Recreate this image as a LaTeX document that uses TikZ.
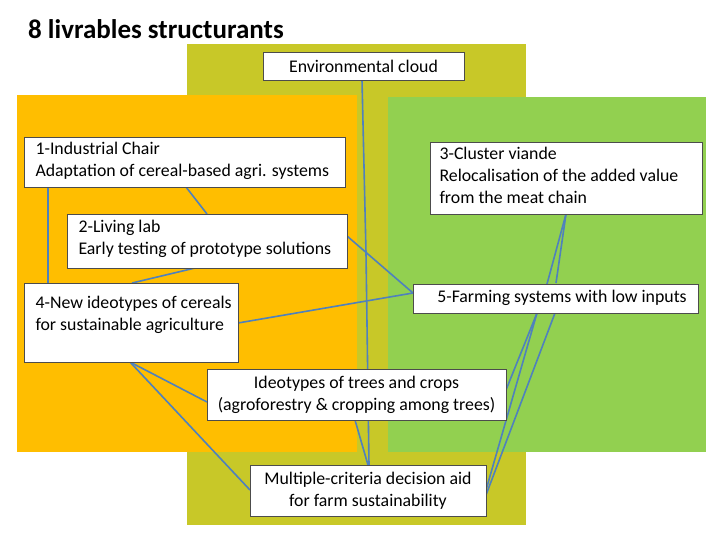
\documentclass[tikz,border=0pt]{standalone}
\usepackage{fontspec}
\setmainfont{Carlito}
\begin{document}
\begin{tikzpicture}[x=1pt,y=-1pt,
  box/.style={draw=black!70,fill=white,line width=0.6pt,inner sep=0pt},
  lab/.style={font=\fontsize{17.8}{22}\selectfont,align=left,anchor=north west},
  conn/.style={draw={rgb,255:red,79;green,129;blue,189},line width=1.6pt}]
\definecolor{olive}{RGB}{200,200,40}
\definecolor{orng}{RGB}{255,190,0}
\definecolor{grn}{RGB}{146,208,80}
\useasboundingbox (0,0) rectangle (720,540);
\fill[white] (0,0) rectangle (720,540);
\fill[olive] (187,44) rectangle (526,525);
\fill[orng] (17,95) rectangle (357,452);
\fill[grn] (388,97) rectangle (706,452);
\node[font=\fontsize{27}{30}\selectfont\bfseries,anchor=west,inner sep=0pt] (title) at (28,29) {8 livrables structurants};
% connectors (behind boxes)
\coordinate (envb) at (362,80);
\coordinate (a1) at (48,187); \coordinate (a4) at (48,283);
\draw[conn] (envb) -- (366,253) -- (369,465);
\draw[conn] (a1) -- (a4);
\draw[conn] (186,187) -- (207,214);
\draw[conn] (195,268) -- (132,283);
\draw[conn] (347,236) -- (413,293);
\draw[conn] (238,323) -- (413,293);
\draw[conn] (130,362) -- (207,402);
\draw[conn] (130,362) -- (250,490);
\draw[conn] (355,420) -- (368,465);
\draw[conn] (566,214) -- (547,284);
\draw[conn] (566,214) -- (556,283);
\draw[conn] (537,313) -- (486,490);
\draw[conn] (555,313) -- (486,495);
\draw[conn] (506,390) -- (537,313);
% boxes
\draw[box] (263,52) rectangle (464,80);
\node[font=\fontsize{17.8}{20}\selectfont] (env) at (363.5,66) {Environmental cloud};
\draw[box] (24,137) rectangle (345,187);
\node[lab] (c1) at (32,139) {1-Industrial Chair\\Adaptation of cereal-based agri. systems};
\draw[box] (430,142) rectangle (702,214);
\node[lab] (c3) at (436,144) {3-Cluster viande\\Relocalisation of the added value\\from the meat chain};
\draw[box] (67,214) rectangle (347,268);
\node[lab] (c2) at (75,217) {2-Living lab\\Early testing of prototype solutions};
\draw[box] (24,283) rectangle (238,362);
\node[lab] (c4) at (32,293) {4-New ideotypes of cereals\\for sustainable agriculture};
\draw[box] (413,284) rectangle (698,313);
\node[font=\fontsize{17.8}{20}\selectfont] (c5) at (562,298) {5-Farming systems with low inputs};
\draw[box] (207,369) rectangle (506,420);
\node[font=\fontsize{17.8}{22}\selectfont,align=center] (tr) at (356.5,394.5) {Ideotypes of trees and crops\\(agroforestry \& cropping among trees)};
\draw[box] (250,465) rectangle (486,516);
\node[font=\fontsize{17.8}{22}\selectfont,align=center] (mc) at (368,490.5) {Multiple-criteria decision aid\\for farm sustainability};
\end{tikzpicture}
\end{document}
